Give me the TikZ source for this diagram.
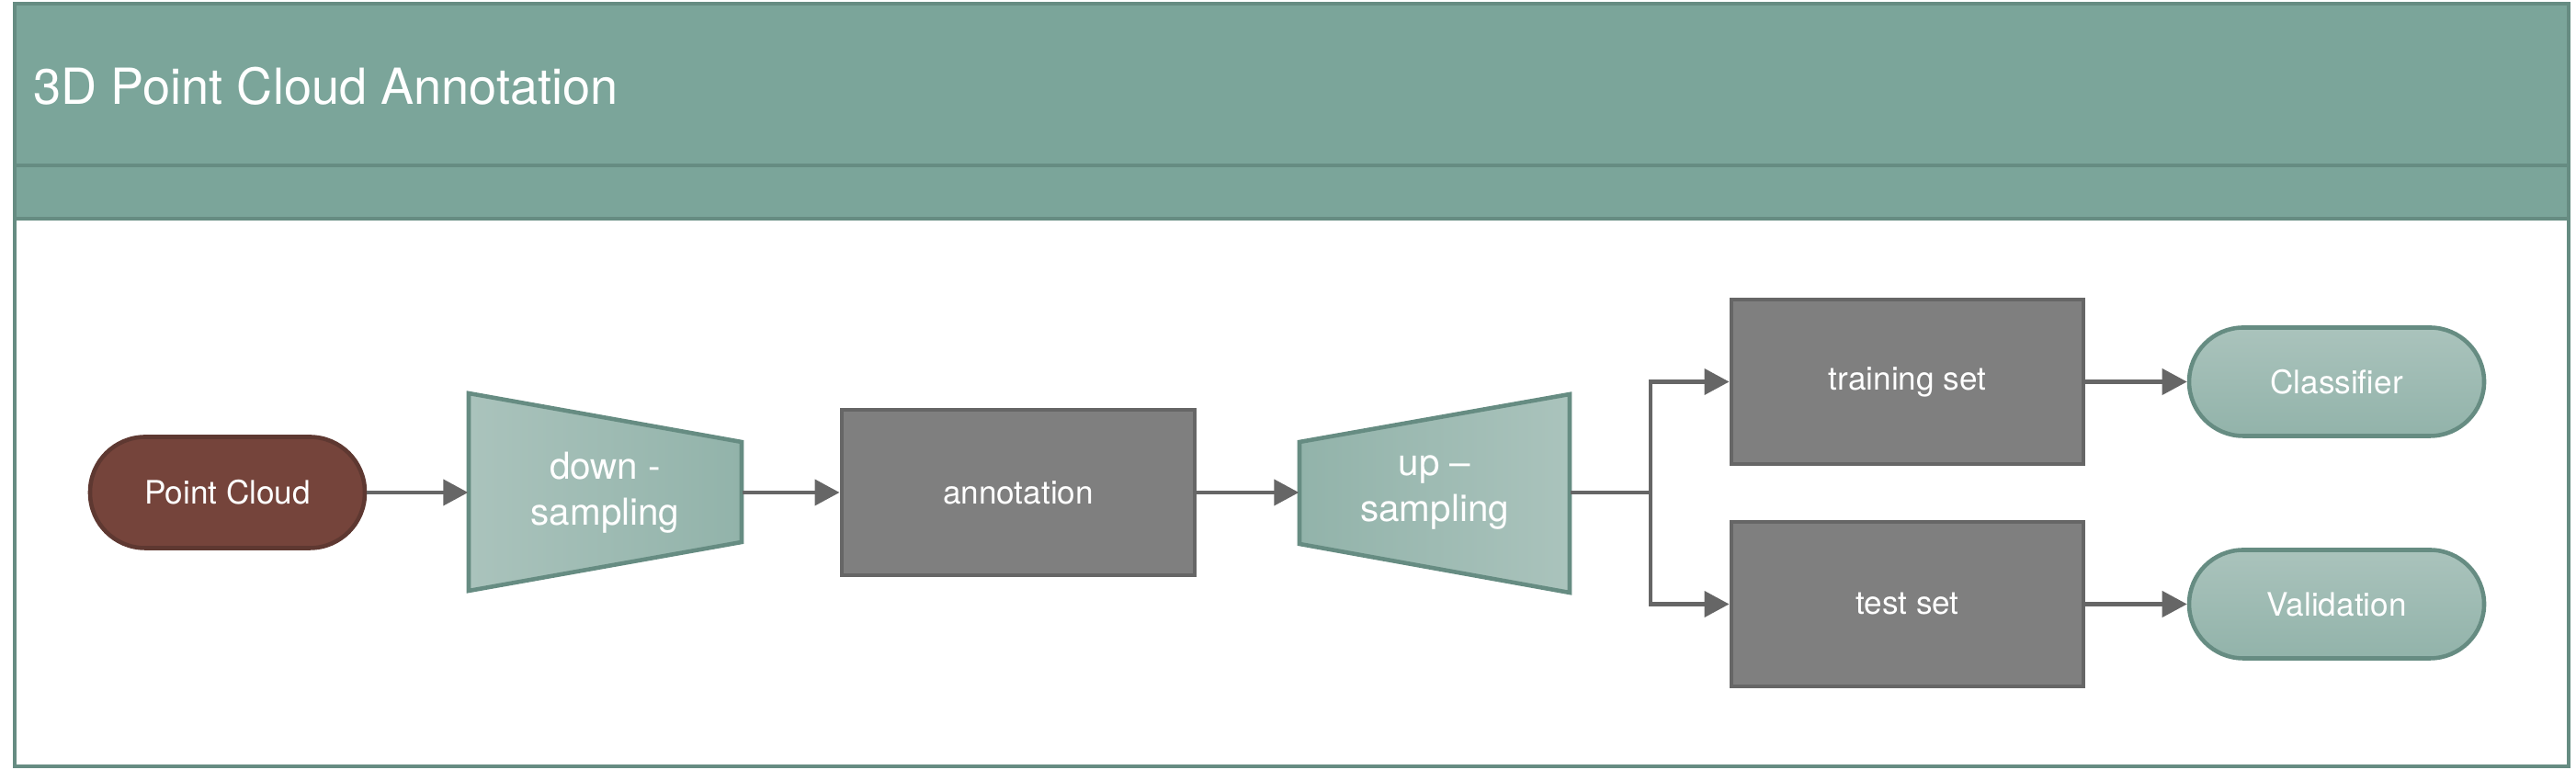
\documentclass[tikz,border=0pt]{standalone}
\usepackage{fontspec}
\setmainfont{TeX Gyre Heros}
\usetikzlibrary{arrows.meta}

\definecolor{sage}{HTML}{7BA59A}
\definecolor{sageline}{HTML}{668C82}
\definecolor{sagelight}{HTML}{AAC3BC}
\definecolor{sagedark}{HTML}{92B3AA}
\definecolor{cloudfill}{HTML}{75443B}
\definecolor{cloudline}{HTML}{5E3831}
\definecolor{boxgray}{HTML}{7F7F7F}
\definecolor{boxline}{HTML}{666666}
\definecolor{arrowgray}{HTML}{666666}

\begin{document}
\begin{tikzpicture}[>={Triangle[length=0.27cm,width=0.28cm]},
        every node/.style={text=white,font=\fontsize{10}{12}\selectfont},
        conn/.style={->,draw=arrowgray,line width=1.15pt},
        frameline/.style={draw=sageline,line width=1.3pt},
        greybox/.style={rectangle,draw=boxline,fill=boxgray,line width=1.4pt,
                minimum width=3.83cm,minimum height=1.79cm},
        stadium/.style={rectangle,rounded corners=0.59cm,draw=sageline,line width=1.3pt,
                top color=sagelight,bottom color=sagedark,
                minimum width=3.21cm,minimum height=1.18cm},
        trapbox/.style={align=center,minimum height=1.09cm,
                font=\fontsize{11.5}{14.2}\selectfont}]
        \useasboundingbox (0,0) rectangle (28.03,8.38);

        % draw the frame and its title band
        \fill[sage] (0.16,6.00) rectangle (27.95,8.34);
        \draw[frameline] (0.16,0.04) rectangle (27.95,8.34);
        \draw[frameline] (0.16,6.58) -- (27.95,6.58);
        \draw[frameline] (0.16,6.00) -- (27.95,6.00);
        \node[anchor=west,inner sep=0pt,font=\fontsize{15.4}{18}\selectfont] (title)
                at (0.36,7.44) {3D Point Cloud Annotation};

        % the input
        \node[rectangle,rounded corners=0.6cm,draw=cloudline,fill=cloudfill,line width=1.3pt,
                minimum width=2.99cm,minimum height=1.21cm] (pc) at (2.475,3.02) {Point Cloud};

        % the two trapezoids
        \shadedraw[left color=sagelight,right color=sagedark,draw=sageline,line width=1.3pt]
                (5.10,4.10) -- (8.07,3.57) -- (8.07,2.48) -- (5.10,1.95) -- cycle;
        \node[trapbox,minimum width=2.97cm] (down) at (6.585,3.02) {down -\\sampling};
        \shadedraw[left color=sagedark,right color=sagelight,draw=sageline,line width=1.3pt]
                (14.14,3.57) -- (17.08,4.09) -- (17.08,1.93) -- (14.14,2.46) -- cycle;
        \node[trapbox,minimum width=2.94cm] (up) at (15.61,3.02) {up –\\sampling};

        % the grey boxes
        \node[greybox,minimum width=3.84cm,minimum height=1.80cm] (annot) at (11.08,3.02) {annotation};
        \node[greybox] (train) at (20.755,4.225) {training set};
        \node[greybox] (test) at (20.755,1.805) {test set};

        % the outputs
        \node[stadium] (clf) at (25.425,4.225) {Classifier};
        \node[stadium] (val) at (25.425,1.805) {Validation};

        % draw the connectors
        \coordinate (split) at (17.96,3.02);
        \draw[conn] (pc) -- (down);
        \draw[conn] (down) -- (annot);
        \draw[conn] (annot) -- (up);
        \draw[conn] (up) -- (split) |- (train);
        \draw[conn] (split) |- (test);
        \draw[conn] (train) -- (clf);
        \draw[conn] (test) -- (val);
\end{tikzpicture}
\end{document}
